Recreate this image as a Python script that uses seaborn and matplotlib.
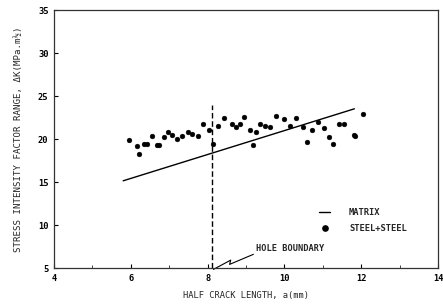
import matplotlib
matplotlib.use("Agg")
import matplotlib.pyplot as plt
import seaborn as sns
import pandas as pd
from matplotlib.lines import Line2D

# ---- data ----
steel_x = [5.96, 6.17, 6.21, 6.33, 6.41, 6.56, 6.67, 6.74, 6.85, 6.96, 7.08, 7.21,
           7.34, 7.48, 7.60, 7.74, 7.87, 8.04, 8.15, 8.28, 8.43, 8.63, 8.73, 8.84,
           8.95, 9.10, 9.17, 9.25, 9.36, 9.49, 9.63, 9.78, 9.99, 10.15, 10.30, 10.48,
           10.58, 10.71, 10.88, 11.03, 11.17, 11.25, 11.43, 11.56, 11.80, 11.84, 12.04]
steel_y = [19.9, 19.2, 18.3, 19.4, 19.4, 20.3, 19.3, 19.3, 20.2, 20.8, 20.5, 20.0,
           20.4, 20.8, 20.6, 20.3, 21.7, 21.1, 19.4, 21.5, 22.5, 21.8, 21.4, 21.8,
           22.6, 21.1, 19.3, 20.8, 21.8, 21.5, 21.4, 22.7, 22.3, 21.5, 22.4, 21.4,
           19.7, 21.1, 22.0, 21.3, 20.2, 19.4, 21.7, 21.8, 20.5, 20.4, 22.9]
matrix_x = [5.8, 11.82]
matrix_y = [15.15, 23.52]
hole_x = 8.1
hole_top = 24.0
x_ticks = [4, 6, 8, 10, 12, 14]
y_ticks = [5, 10, 15, 20, 25, 30, 35]
zigzag_x = [9.19, 8.57, 8.60, 8.15]
zigzag_y = [6.60, 5.43, 5.93, 4.85]

sns.set_style("ticks")
plt.rcParams['font.family'] = ['DejaVu Sans Mono', 'DejaVu Sans']
plt.rcParams['font.weight'] = 'bold'

fig = plt.figure(figsize=(4.43, 3.05), dpi=100)
ax = fig.add_axes([0.122, 0.121, 0.867, 0.846])

steel_df = pd.DataFrame({"x": steel_x, "y": steel_y})
matrix_df = pd.DataFrame({"x": matrix_x, "y": matrix_y})

sns.lineplot(data=matrix_df, x="x", y="y", ax=ax, color="black", linewidth=1.0)
sns.scatterplot(data=steel_df, x="x", y="y", ax=ax, color="black", s=12,
                edgecolor="black", linewidth=0.3, marker="o")

ax.vlines(hole_x, 5, hole_top, colors="black", linestyles=(0, (4, 2)), linewidth=1.0)
ax.plot(zigzag_x, zigzag_y, color="black", linewidth=0.8, clip_on=False)
ax.text(9.25, 7.3, "HOLE BOUNDARY", fontsize=6.2, va="center", ha="left")

ax.set_xlim(4, 14)
ax.set_ylim(5, 35)
ax.set_xticks(x_ticks)
ax.set_yticks(y_ticks)
ax.set_xticks([5, 7, 9, 11, 13], minor=True)
ax.tick_params(axis="both", which="major", direction="in", length=3, width=0.8,
               labelsize=6.3, pad=4, colors="black")
ax.tick_params(axis="x", which="minor", direction="in", length=2, width=0.6)
for s in ax.spines.values():
    s.set_visible(True)
    s.set_linewidth(0.9)
    s.set_color("#333333")

ax.set_xlabel("HALF CRACK LENGTH, a(mm)", fontsize=6.3, labelpad=6)
ax.set_ylabel("STRESS INTENSITY FACTOR RANGE, \u0394K(MPa.m\u00bd)", fontsize=6.6, labelpad=11)

handles = [Line2D([0], [0], color="black", linewidth=1.0),
           Line2D([0], [0], color="black", marker="o", linestyle="none", markersize=3.8)]
ax.legend(handles, ["MATRIX", "STEEL+STEEL"], loc="upper left",
          bbox_to_anchor=(0.67, 0.265), frameon=False, fontsize=6.3,
          handlelength=1.2, handletextpad=2.2, labelspacing=0.85)

fig.savefig("out.png", dpi=100)
